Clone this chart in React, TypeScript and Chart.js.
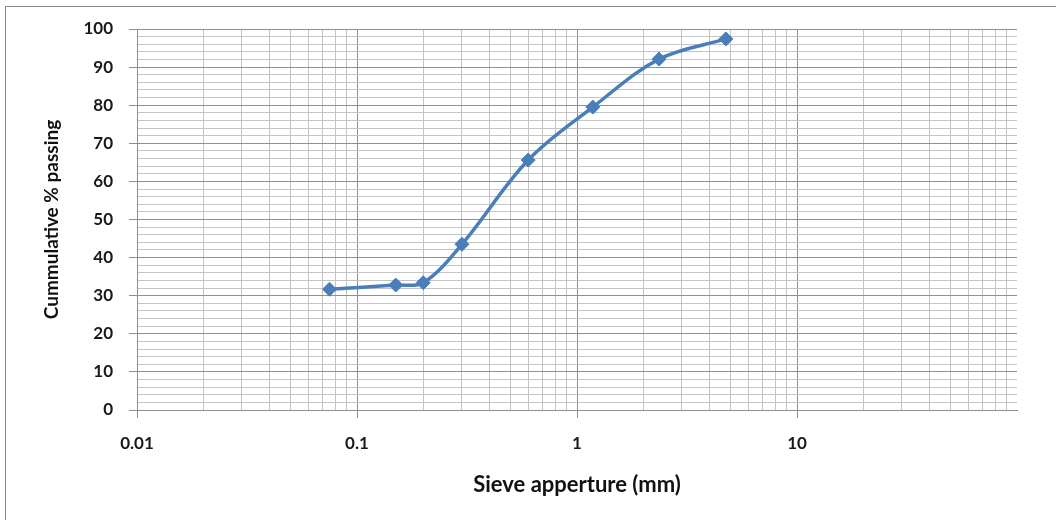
import React, { useEffect, useRef } from 'react';
import { Chart, registerables } from 'chart.js';

Chart.register(...registerables);

// ---- data ----
const sieveSizes = [0.075, 0.15, 0.2, 0.3, 0.6, 1.18, 2.36, 4.75];
const cumulativePassing = [31.7, 32.8, 33.4, 43.5, 65.6, 79.5, 92.1, 97.4];

const xDecades = [0.01, 0.1, 1, 10, 100];
const xMultipliers = [1, 2, 3, 4, 5, 6, 7, 8, 9];
const yMin = 0;
const yMax = 100;
const yMinorStep = 2;
const yLabelStep = 10;

const xTitle = 'Sieve apperture (mm)';
const yTitle = 'Cummulative % passing';

const isDecade = (v: number) => Math.abs(Math.log10(v) - Math.round(Math.log10(v))) < 1e-6;

const MAJOR = '#8f8f8f';
const MINOR = '#c4c4c4';
const LINE = '#4A7EBB';
const FONT = 'Lato, "Open Sans", sans-serif';

export default function App() {
  const ref = useRef<HTMLCanvasElement | null>(null);

  useEffect(() => {
    if (!ref.current) return;
    const xTicks: number[] = [];
    for (let i = 0; i < xDecades.length - 1; i++) {
      for (const m of xMultipliers) xTicks.push(parseFloat((xDecades[i] * m).toPrecision(6)));
    }
    xTicks.push(xDecades[xDecades.length - 1]);

    const chart = new Chart(ref.current, {
      type: 'line',
      data: {
        datasets: [
          {
            data: sieveSizes.map((x, i) => ({ x, y: cumulativePassing[i] })),
            borderColor: LINE,
            backgroundColor: LINE,
            borderWidth: 3.5,
            pointStyle: 'rectRot',
            pointRadius: 7,
            pointBorderWidth: 1,
            pointBorderColor: LINE,
            tension: 0.35,
            fill: false,
          },
        ],
      },
      options: {
        animation: false,
        responsive: false,
        devicePixelRatio: 1,
        layout: { padding: { top: 29, right: 39, left: 0, bottom: 0 } },
        plugins: {
          legend: { display: false },
          tooltip: { enabled: false },
        },
        scales: {
          x: {
            type: 'logarithmic',
            min: xDecades[0],
            max: xDecades[xDecades.length - 1],
            afterBuildTicks: (scale: any) => {
              scale.ticks = xTicks.map((v) => ({ value: v, major: isDecade(v) }));
            },
            afterFit: (scale: any) => {
              scale.height = 110;
            },
            ticks: {
              autoSkip: false,
              maxRotation: 0,
              minRotation: 0,
              padding: 15,
              color: '#1a1a1a',
              font: { family: FONT, size: 17, weight: 'bold' },
              callback: (v: any) => {
                const n = Number(v);
                if (n === 100) return '';
                return isDecade(n) ? String(n) : '';
              },
            },
            grid: {
              color: (ctx: any) => {
                const v = ctx.tick?.value;
                if (v === undefined) return MINOR;
                if (v >= 100) return 'rgba(0,0,0,0)';
                return isDecade(v) ? MAJOR : MINOR;
              },
              tickColor: (ctx: any) => {
                const v = ctx.tick?.value;
                if (v === undefined || v >= 100) return 'rgba(0,0,0,0)';
                return isDecade(v) ? MAJOR : 'rgba(0,0,0,0)';
              },
              tickLength: 8,
              lineWidth: 1,
            },
            border: { color: MAJOR, width: 1 },
            title: {
              display: true,
              text: xTitle,
              color: '#111',
              font: { family: FONT, size: 22, weight: 'bold' },
              padding: { top: 0, bottom: 22 },
            },
          },
          y: {
            type: 'linear',
            min: yMin,
            max: yMax,
            afterFit: (scale: any) => {
              scale.width = 137;
            },
            ticks: {
              stepSize: yMinorStep,
              autoSkip: false,
              padding: 16,
              color: '#1a1a1a',
              font: { family: FONT, size: 17, weight: 'bold' },
              callback: (v: any) => (Number(v) % yLabelStep === 0 ? String(v) : ''),
            },
            grid: {
              color: (ctx: any) => {
                const v = ctx.tick?.value;
                return v !== undefined && v % yLabelStep === 0 ? MAJOR : MINOR;
              },
              tickColor: (ctx: any) => {
                const v = ctx.tick?.value;
                return v !== undefined && v % yLabelStep === 0 ? MAJOR : 'rgba(0,0,0,0)';
              },
              tickLength: 8,
              lineWidth: 1,
            },
            border: { color: MAJOR, width: 1 },
            title: {
              display: true,
              text: yTitle,
              color: '#111',
              font: { family: FONT, size: 19, weight: 'bold' },
              padding: { top: 40, bottom: 0 },
            },
          },
        },
      },
    } as any);

    return () => chart.destroy();
  }, []);

  return (
    <div
      style={{
        position: 'fixed',
        left: 0,
        top: 0,
        width: 1056,
        height: 520,
        overflow: 'hidden',
        background: '#fff',
      }}
    >
      <div
        style={{
          position: 'absolute',
          left: 5,
          top: 6,
          width: 1100,
          height: 600,
          borderLeft: '1px solid #8a8a8a',
          borderTop: '1px solid #8a8a8a',
        }}
      />
      <canvas
        ref={ref}
        width={1056}
        height={520}
        style={{ position: 'absolute', left: 0, top: 0, width: 1056, height: 520 }}
      />
    </div>
  );
}
